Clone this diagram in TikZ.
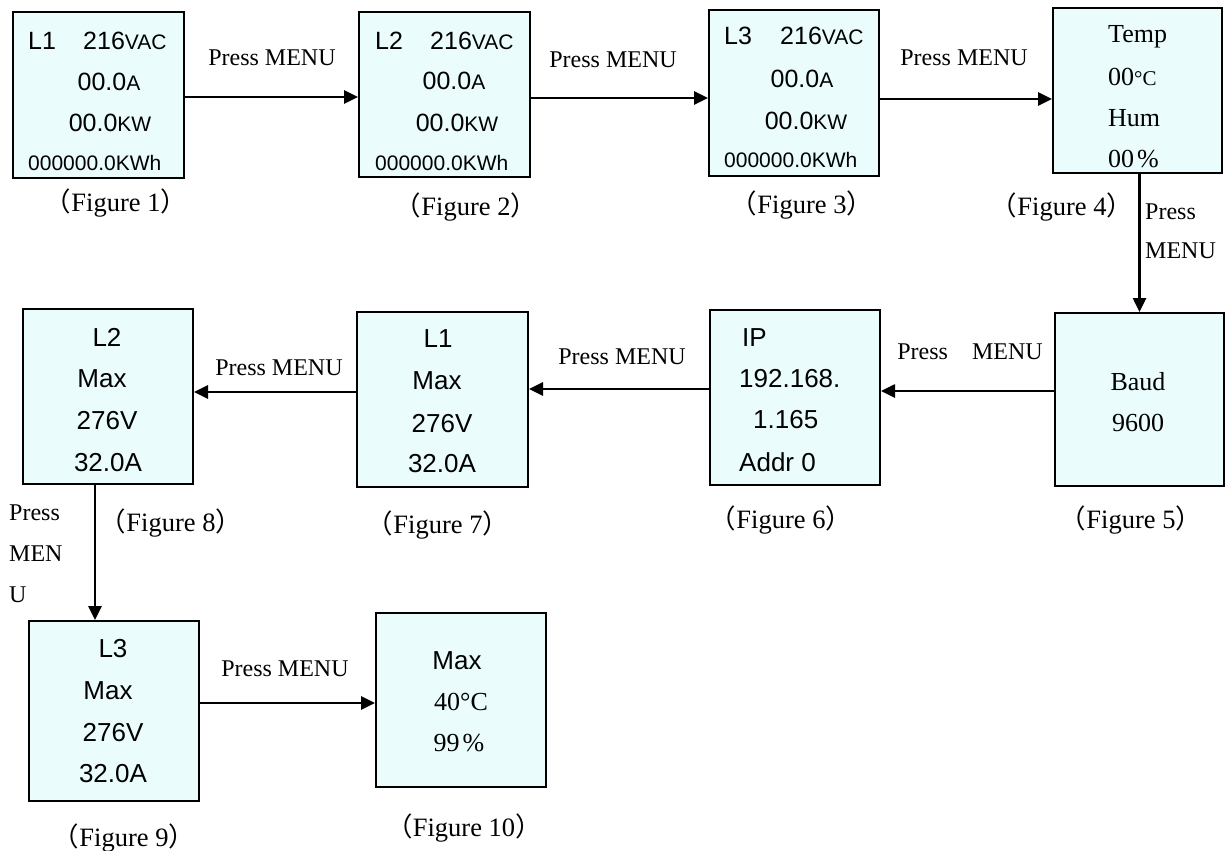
\documentclass[tikz,border=0pt]{standalone}
\usepackage{fontspec}
\setmainfont{Liberation Serif}
\newfontfamily\arialfont{Liberation Sans}
\newfontfamily\cjkfont{Noto Sans CJK SC}
\usetikzlibrary{calc}
\usetikzlibrary{arrows.meta}
\definecolor{lcdcyan}{RGB}{234,252,252}
\tikzstyle{every node}=[inner sep=0pt]
\newcommand{\fig}[1]{{\cjkfont （}Figure #1{\cjkfont ）}}
\newcommand{\unitsm}[1]{{\fontsize{21}{21}\selectfont #1}}

\begin{document}
\begin{tikzpicture}[x=1pt,y=-1pt]
		\tikzstyle{lcd} = [draw=black, fill=lcdcyan, line width=2pt, minimum width=170pt, minimum height=170pt]
		\tikzstyle{arrow} = [line width=2.6pt, -{Triangle[length=14pt, width=13pt]}]
		\tikzstyle{sans} = [font=\arialfont\fontsize{25}{25}\selectfont, anchor=base]
		\tikzstyle{sansbig} = [font=\arialfont\fontsize{26}{26}\selectfont, anchor=base]
		\tikzstyle{sanssm} = [font=\arialfont\fontsize{21}{21}\selectfont, anchor=base west]
		\tikzstyle{serif} = [font=\fontsize{26}{26}\selectfont, anchor=base]
		\tikzstyle{press} = [font=\fontsize{24}{24}\selectfont, anchor=base]
		\tikzstyle{caption} = [font=\fontsize{26.5}{26.5}\selectfont, anchor=base]
		
		\useasboundingbox (0,0) rectangle (1226,851);
		
		% screens
		\node[lcd, minimum width=171pt, minimum height=166pt] (box1) at (98.5,95) {};
		\node[lcd, minimum width=171pt, minimum height=165pt] (box2) at (444.5,94.5) {};
		\node[lcd, minimum height=166pt] (box3) at (794,93) {};
		\node[lcd, minimum width=169pt, minimum height=165pt] (box4) at (1137.5,90.5) {};
		\node[lcd, minimum width=169pt, minimum height=173pt] (box5) at (1139.5,399.5) {};
		\node[lcd, minimum height=175pt] (box6) at (795,397.5) {};
		\node[lcd, minimum width=171pt, minimum height=175pt] (box7) at (442.5,399.5) {};
		\node[lcd, minimum height=175pt] (box8) at (108,396.5) {};
		\node[lcd, minimum height=180pt] (box9) at (114,711) {};
		\node[lcd, minimum height=174pt] (box10) at (461,700) {};
		
		% figure 1-3
		\node[sans, anchor=base west] (l1name) at (28,49) {L1};
		\node[sans, anchor=base west] (l1volt) at (83,49) {216\unitsm{VAC}};
		\node[sans] (l1amp) at (109,91) {00.0\unitsm{A}};
		\node[sans] (l1pow) at (110,131) {00.0\unitsm{KW}};
		\node[sanssm] (l1ener) at (28,170.5) {000000.0KWh};
		
		\node[sans, anchor=base west] (l2name) at (375,49) {L2};
		\node[sans, anchor=base west] (l2volt) at (430,49) {216\unitsm{VAC}};
		\node[sans] (l2amp) at (454,89) {00.0\unitsm{A}};
		\node[sans] (l2pow) at (457,131) {00.0\unitsm{KW}};
		\node[sanssm] (l2ener) at (375,170.5) {000000.0KWh};
		
		\node[sans, anchor=base west] (l3name) at (724,45) {L3};
		\node[sans, anchor=base west] (l3volt) at (780,45) {216\unitsm{VAC}};
		\node[sans] (l3amp) at (802,88) {00.0\unitsm{A}};
		\node[sans] (l3pow) at (806,129) {00.0\unitsm{KW}};
		\node[sanssm] (l3ener) at (724,167.5) {000000.0KWh};
		
		% figure 4-5
		\node[serif, anchor=base west] (temp) at (1108,43) {Temp};
		\node[serif, anchor=base west] (tempval) at (1108,85) {00{\fontsize{21}{21}\selectfont °C}};
		\node[serif, anchor=base west] (hum) at (1108,126) {Hum};
		\node[serif, anchor=base west] (humval) at (1108,167) {00\kern3pt\%};
		
		\node[serif] (baud) at (1138,390) {Baud};
		\node[serif] (baudval) at (1138,431) {9600};
		
		% figure 6
		\node[sansbig, anchor=base west] (ip) at (742,346) {IP};
		\node[sansbig, anchor=base west] (ipa) at (739,387) {192.168.};
		\node[sansbig, anchor=base west] (ipb) at (753,428) {1.165};
		\node[sansbig, anchor=base west] (addr) at (739,471) {Addr 0};
		
		% figure 7-9
		\node[sansbig] (m1name) at (438,347) {L1};
		\node[sansbig] (m1max) at (437,389) {Max};
		\node[sansbig] (m1volt) at (442,432) {276V};
		\node[sansbig] (m1amp) at (442,472) {32.0A};
		
		\node[sansbig] (m2name) at (107,346) {L2};
		\node[sansbig] (m2max) at (102,387) {Max};
		\node[sansbig] (m2volt) at (107,429) {276V};
		\node[sansbig] (m2amp) at (108,471) {32.0A};
		
		\node[sansbig] (m3name) at (113,657) {L3};
		\node[sansbig] (m3max) at (108,699) {Max};
		\node[sansbig] (m3volt) at (113,741) {276V};
		\node[sansbig] (m3amp) at (113,782) {32.0A};
		
		% figure 10
		\node[sansbig] (tmax) at (457,669) {Max};
		\node[serif] (tmaxtemp) at (461,710) {40°C};
		\node[serif] (tmaxhum) at (459,751) {99\kern3pt\%};
		
		% captions
		\node[caption] (cap1) at (116,211) {\fig{1}};
		\node[caption] (cap2) at (466,215) {\fig{2}};
		\node[caption] (cap3) at (802,213) {\fig{3}};
		\node[caption] (cap4) at (1062,215) {\fig{4}};
		\node[caption] (cap5) at (1131,528) {\fig{5}};
		\node[caption] (cap6) at (781,528) {\fig{6}};
		\node[caption] (cap7) at (438,533) {\fig{7}};
		\node[caption] (cap8) at (171,531) {\fig{8}};
		\node[caption] (cap9) at (124,846) {\fig{9}};
		\node[caption] (cap10) at (464,836) {\fig{10}};
		
		% menu steps
		\draw[arrow] ([yshift=-2pt]box1.east) -- ([yshift=-2pt]box1.east -| box2.west);
		\draw[arrow] ([yshift=-3.5pt]box2.east) -- ([yshift=-3.5pt]box2.east -| box3.west);
		\draw[arrow] ([yshift=-6pt]box3.east) -- ([yshift=-6pt]box3.east -| box4.west);
		\draw[arrow] (box5.north |- box4.south) -- (box5.north);
		\draw[arrow] ([yshift=8.5pt]box5.west) -- ([yshift=8.5pt]box5.west -| box6.east);
		\draw[arrow] ([yshift=8.5pt]box6.west) -- ([yshift=8.5pt]box6.west -| box7.east);
		\draw[arrow] ([yshift=7.5pt]box7.west) -- ([yshift=7.5pt]box7.west -| box8.east);
		\draw[arrow] ([xshift=-13pt]box8.south) -- ([xshift=-13pt]box8.south |- box9.north);
		\draw[arrow] ([yshift=8pt]box9.east) -- ([yshift=8pt]box9.east -| box10.west);
		
		\node[press] (p12) at (272,65.5) {Press MENU};
		\node[press] (p23) at (613,67.5) {Press MENU};
		\node[press] (p34) at (964,65.5) {Press MENU};
		\node[press, anchor=base west, align=left, font=\fontsize{24}{39}\selectfont] (p45) at (1145,258.5) {Press\\MENU};
		\node[press] (p56) at (970,359.5) {Press\hspace{18pt} MENU};
		\node[press] (p67) at (622,364.5) {Press MENU};
		\node[press] (p78) at (279,375.5) {Press MENU};
		\node[press, anchor=base west, align=left, font=\fontsize{24}{41}\selectfont] (p89) at (9,602.5) {Press\\MEN\\U};
		\node[press] (p910) at (285,676.5) {Press MENU};
		
	\end{tikzpicture}
\end{document}
